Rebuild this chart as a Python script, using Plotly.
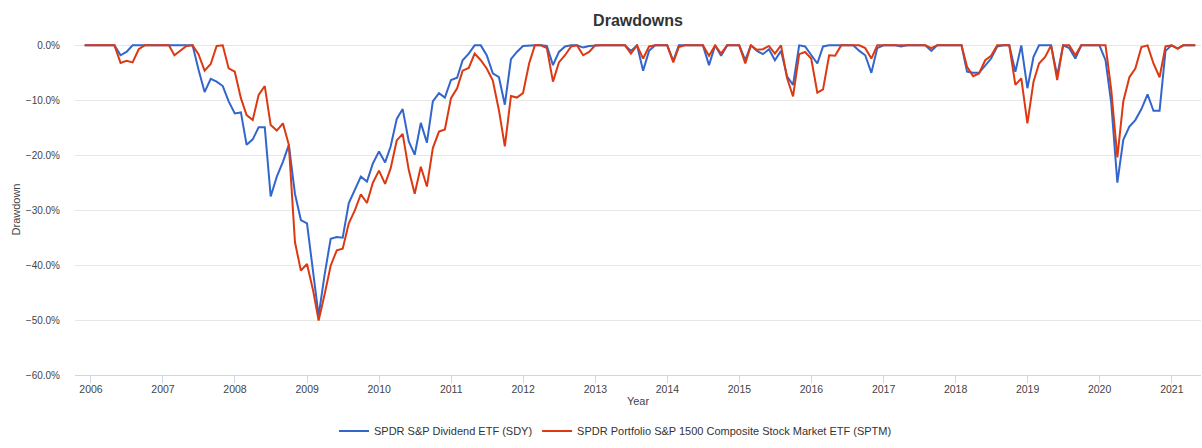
import pandas as pd
import plotly.graph_objects as go

# Month-end dates: Nov 2005 .. Apr 2021
dates = pd.date_range("2005-11-30", periods=186, freq=pd.offsets.MonthEnd())

sdy_name = "SPDR S&P Dividend ETF (SDY)"
sptm_name = "SPDR Portfolio S&P 1500 Composite Stock Market ETF (SPTM)"

# Drawdown values in percent, grouped by year
sdy_2005 = [0, 0]
sdy_2006 = [0, 0, 0, 0, -1.8, -1.2, 0, 0, 0, 0, 0, 0]
sdy_2007 = [0, 0, 0, 0, 0, -4.4, -8.5, -6.1, -6.6, -7.4, -10.2, -12.4]
sdy_2008 = [-12.2, -18.1, -17.1, -14.9, -14.9, -27.5, -23.9, -21.2, -18.1, -27.0, -31.8, -32.4]
sdy_2009 = [-41.0, -49.2, -41.6, -35.2, -34.9, -35.0, -28.7, -26.3, -23.9, -24.8, -21.5, -19.3]
sdy_2010 = [-21.3, -18.4, -13.4, -11.6, -17.5, -19.9, -14.1, -17.7, -10.2, -8.7, -9.5, -6.3]
sdy_2011 = [-5.9, -2.7, -1.5, 0, 0, -1.8, -5.1, -5.8, -10.8, -2.5, -1.2, -0.1]
sdy_2012 = [0, 0, 0, -0.1, -3.6, -1.2, -0.2, 0, 0, -0.4, -0.1, 0]
sdy_2013 = [0, 0, 0, 0, 0, -1.0, 0, -4.6, -1.0, 0, 0, 0]
sdy_2014 = [-2.8, 0, 0, 0, 0, 0, -3.6, 0, -1.9, 0, 0, 0]
sdy_2015 = [-2.7, 0, -1.0, -1.6, -0.7, -2.7, -1.0, -5.7, -7.2, 0, -0.2, -1.8]
sdy_2016 = [-3.3, -0.2, 0, 0, 0, 0, 0, -1.0, -1.8, -5.0, -0.5, 0]
sdy_2017 = [0, 0, -0.2, 0, 0, 0, 0, -1.0, 0, 0, 0, 0]
sdy_2018 = [0, -4.8, -5.0, -5.0, -3.6, -2.4, -0.2, 0, 0, -4.8, 0, -7.8]
sdy_2019 = [-2.1, 0, 0, 0, -5.5, 0, -0.5, -2.4, 0, 0, 0, 0]
sdy_2020 = [-2.7, -10.5, -25.0, -17.2, -14.8, -13.6, -11.6, -8.9, -11.9, -11.9, -1.0, 0]
sdy_2021 = [-0.6, 0, 0, 0]

sptm_2005 = [0, 0]
sptm_2006 = [0, 0, 0, 0, -3.2, -2.8, -3.1, -0.7, 0, 0, 0, 0]
sptm_2007 = [0, -1.8, -0.9, -0.1, 0, -1.6, -4.6, -3.4, -0.1, 0, -4.2, -4.8]
sptm_2008 = [-9.6, -12.7, -13.6, -9.0, -7.4, -14.5, -15.5, -14.2, -18.1, -35.8, -41.0, -39.8]
sptm_2009 = [-44.6, -50.1, -45.2, -40.1, -37.3, -37.0, -32.4, -30.0, -27.1, -28.7, -25.0, -22.8]
sptm_2010 = [-25.2, -22.4, -17.3, -16.1, -22.7, -27.0, -22.1, -25.7, -18.7, -15.7, -15.3, -9.6]
sptm_2011 = [-7.8, -4.6, -4.1, -1.5, -2.7, -4.2, -6.4, -11.8, -18.4, -9.2, -9.5, -8.7]
sptm_2012 = [-3.3, 0, 0, -0.5, -6.6, -3.1, -1.8, -0.2, 0, -1.8, -1.2, 0]
sptm_2013 = [0, 0, 0, 0, 0, -1.5, 0, -2.4, -0.2, 0, 0, 0]
sptm_2014 = [-3.1, -0.3, 0, 0, 0, 0, -1.9, 0, -1.5, 0, 0, 0]
sptm_2015 = [-3.3, 0, -0.8, -0.7, -0.1, -1.5, 0, -6.0, -9.3, -1.6, -1.2, -2.4]
sptm_2016 = [-8.6, -8.0, -1.8, -1.9, 0, 0, 0, 0, -0.5, -2.4, 0, 0]
sptm_2017 = [0, 0, 0, 0, 0, 0, 0, -0.5, 0, 0, 0, 0]
sptm_2018 = [0, -3.9, -5.6, -5.1, -2.7, -1.9, 0, 0, 0, -7.2, -6.0, -14.2]
sptm_2019 = [-6.6, -3.3, -2.1, 0, -6.3, 0, 0, -1.8, 0, 0, 0, 0]
sptm_2020 = [0, -8.1, -20.4, -10.2, -5.8, -4.2, -0.3, 0, -3.3, -5.8, -0.2, 0]
sptm_2021 = [-0.6, 0, 0, 0]

sdy = (sdy_2005 + sdy_2006 + sdy_2007 + sdy_2008 + sdy_2009 + sdy_2010 + sdy_2011
       + sdy_2012 + sdy_2013 + sdy_2014 + sdy_2015 + sdy_2016 + sdy_2017 + sdy_2018
       + sdy_2019 + sdy_2020 + sdy_2021)
sptm = (sptm_2005 + sptm_2006 + sptm_2007 + sptm_2008 + sptm_2009 + sptm_2010 + sptm_2011
        + sptm_2012 + sptm_2013 + sptm_2014 + sptm_2015 + sptm_2016 + sptm_2017 + sptm_2018
        + sptm_2019 + sptm_2020 + sptm_2021)

year_ticks = [f"{y}-01-01" for y in range(2006, 2022)]
year_labels = [str(y) for y in range(2006, 2022)]

BLUE = "#3366CC"
RED = "#DC3912"
FONT = "Liberation Sans, Arial, sans-serif"

fig = go.Figure()
fig.add_trace(go.Scatter(x=dates, y=[v / 100 for v in sdy], mode="lines", name=sdy_name,
                         line=dict(color=BLUE, width=2)))
fig.add_trace(go.Scatter(x=dates, y=[v / 100 for v in sptm], mode="lines", name=sptm_name,
                         line=dict(color=RED, width=2)))

fig.update_layout(
    width=1202, height=448,
    margin=dict(l=75, r=1, t=44, b=73, autoexpand=False),
    paper_bgcolor="white", plot_bgcolor="white",
    font=dict(family=FONT, size=11, color="#444444"),
    title=dict(text="<b>Drawdowns</b>", x=0.5, xanchor="center", xref="paper",
               y=1 - 20 / 448, yanchor="middle", yref="container", automargin=False,
               font=dict(size=16, color="#333333", family=FONT)),
    showlegend=True,
    legend=dict(orientation="h", x=0.48, xanchor="center",
                y=1 - 431 / 448, yanchor="middle", yref="container",
                font=dict(size=11, color="#333333"), bgcolor="rgba(0,0,0,0)"),
    xaxis=dict(
        type="date", automargin=False,
        range=["2005-10-12", "2021-05-29"],
        tickvals=year_ticks, ticktext=year_labels,
        showgrid=False, showline=True, linecolor="#ccd6eb", linewidth=1,
        ticks="outside", ticklen=7, tickcolor="#ccd6eb",
        ticklabelstandoff=-3,
        tickfont=dict(size=10.5, color="#444444"),
        title=dict(text="Year", font=dict(size=11, color="#444444"), standoff=3),
        zeroline=False,
    ),
    yaxis=dict(
        automargin=False,
        range=[-0.60, 0.0025],
        tickvals=[0, -0.1, -0.2, -0.3, -0.4, -0.5, -0.6],
        tickformat=".1%",
        showgrid=True, gridcolor="#e6e6e6", gridwidth=1,
        showline=False, zeroline=False, ticks="",
        ticklabelstandoff=14,
        tickfont=dict(size=10, color="#444444"),
        title=dict(text="Drawdown", font=dict(size=11, color="#444444"), standoff=2),
    ),
)

fig.write_html("out.html",
               config={"displayModeBar": False},
               post_script="document.body.style.margin='0';document.body.style.overflow='hidden';")
